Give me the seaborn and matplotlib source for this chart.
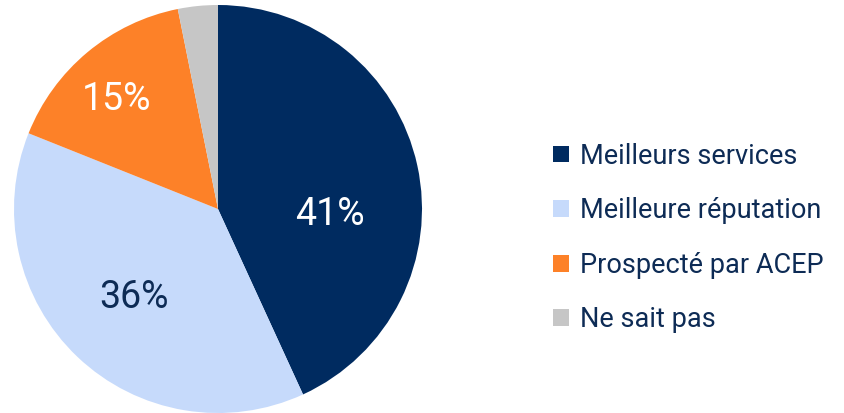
import matplotlib
matplotlib.use("Agg")
import matplotlib.pyplot as plt
import seaborn as sns
import numpy as np
from matplotlib.patches import Patch

categories = ["Meilleurs services", "Meilleure réputation", "Prospecté par ACEP", "Ne sait pas"]
values = [41, 36, 15, 3]
value_labels = ["41%", "36%", "15%", ""]
colors = ["#002B60", "#C6DAFB", "#FD8128", "#C6C6C6"]
label_colors = ["white", "#0D2B55", "white", "white"]

sns.set_theme(style="white")
plt.rcParams["font.family"] = ["Roboto", "DejaVu Sans"]

fig = plt.figure(figsize=(8.44, 4.13), dpi=100)
r_px = 204
cx, cy = 218, 413 - 209
ax = fig.add_axes([(cx - r_px) / 844, (cy - r_px) / 413, 2 * r_px / 844, 2 * r_px / 413])

wedges, _ = ax.pie(values, colors=colors, startangle=90, counterclock=False,
                   radius=1.0, wedgeprops=dict(linewidth=0))
ax.set_xlim(-1, 1)
ax.set_ylim(-1, 1)
ax.set_aspect("equal")
ax.axis("off")

# label placement: radial distance and angular nudge per wedge
dist = [0.55, 0.6, 0.73, 0.6]
nudge = [-15, 0, 3, 0]
for w, lab, col, d, n in zip(wedges, value_labels, label_colors, dist, nudge):
    if not lab:
        continue
    ang = np.deg2rad((w.theta1 + w.theta2) / 2 + n)
    ax.text(d * np.cos(ang), d * np.sin(ang), lab, ha="center", va="center",
            color=col, fontsize=27)

handles = [Patch(facecolor=c, edgecolor="none") for c in colors]
leg = fig.legend(handles, categories, loc="center left",
                 bbox_to_anchor=(553 / 844, 1 - 238 / 413), frameon=False,
                 fontsize=19.5, labelspacing=1.02, handlelength=0.58, handleheight=0.58,
                 handletextpad=0.4, borderaxespad=0, borderpad=0)
for t in leg.get_texts():
    t.set_color("#0D2B55")

fig.savefig("out.png", dpi=100)
